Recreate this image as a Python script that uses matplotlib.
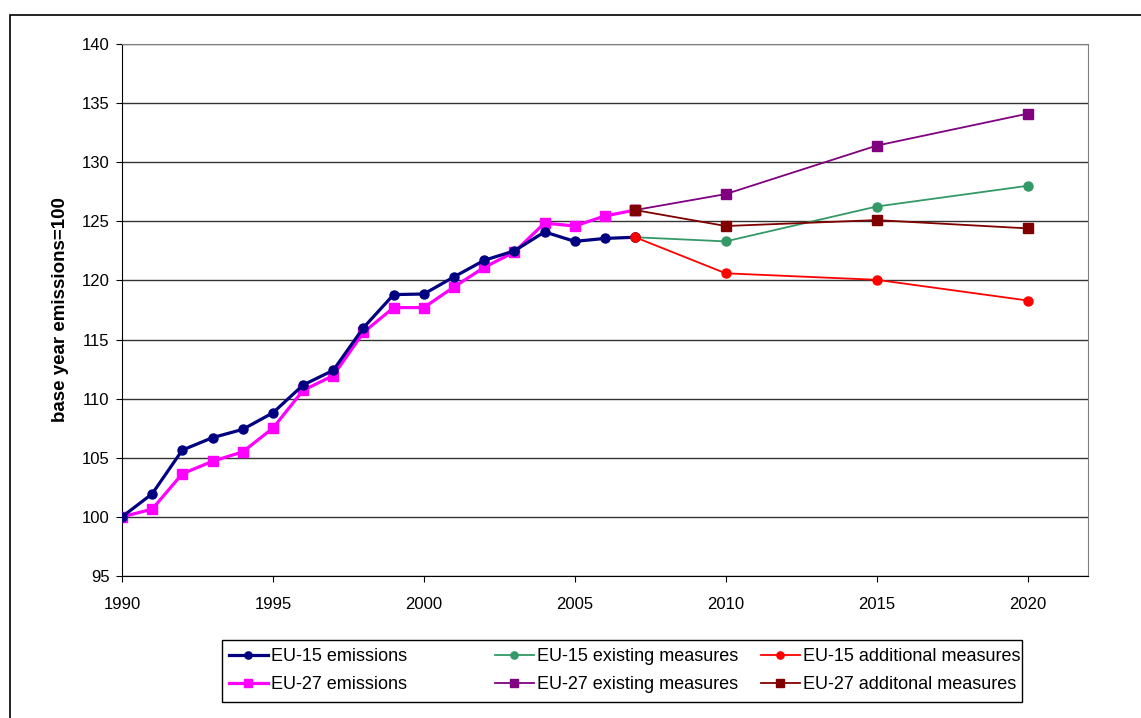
import matplotlib.pyplot as plt
import matplotlib.patches as patches

plt.rcParams['font.family'] = ['Liberation Sans', 'DejaVu Sans']

years = list(range(1990, 2008))
eu15 = [100.0, 101.95, 105.65, 106.7, 107.4, 108.8, 111.15, 112.4, 116.0, 118.8,
        118.85, 120.3, 121.7, 122.5, 124.1, 123.3, 123.55, 123.65]
eu27 = [100.0, 100.65, 103.65, 104.7, 105.5, 107.5, 110.7, 111.95, 115.6, 117.7,
        117.7, 119.45, 121.1, 122.4, 124.85, 124.6, 125.45, 125.95]

proj_years = [2007, 2010, 2015, 2020]
eu15_existing = [123.65, 123.3, 126.25, 128.0]
eu15_additional = [123.65, 120.6, 120.05, 118.3]
eu27_existing = [125.95, 127.3, 131.4, 134.1]
eu27_additional = [125.95, 124.6, 125.1, 124.4]

fig = plt.figure(figsize=(11.41, 7.18), dpi=100)
ax = fig.add_axes([0.1069, 0.1978, 0.8466, 0.741])

# outer chart border
fig.patches.append(patches.Rectangle((0.0088, -0.02), 1.1, 0.9991, transform=fig.transFigure,
                                     fill=False, edgecolor='black', linewidth=1.2))

h1, = ax.plot(years, eu15, color='#000080', lw=2.3, marker='o', ms=6.5, label='EU-15 emissions', zorder=5)
h2, = ax.plot(years, eu27, color='#FF00FF', lw=2.3, marker='s', ms=6.5, label='EU-27 emissions', zorder=4)
h3, = ax.plot(proj_years, eu15_existing, color='#339966', lw=1.3, marker='o', ms=6.5, label='EU-15 existing measures', zorder=3)
h4, = ax.plot(proj_years, eu27_existing, color='#800080', lw=1.3, marker='s', ms=6.5, label='EU-27 existing measures', zorder=3)
h5, = ax.plot(proj_years, eu15_additional, color='#FF0000', lw=1.3, marker='o', ms=6.5, label='EU-15 additional measures', zorder=6)
h6, = ax.plot(proj_years, eu27_additional, color='#800000', lw=1.3, marker='s', ms=6.5, label='EU-27 additonal measures', zorder=6)

ax.set_xlim(1990, 2022)
ax.set_ylim(95, 140)
ax.set_xticks(range(1990, 2021, 5))
ax.set_yticks(range(95, 141, 5))
ax.yaxis.grid(True, color='#333333', lw=1.0)
ax.set_axisbelow(True)
for s in ['top', 'right']:
    ax.spines[s].set_color('#808080')
ax.tick_params(labelsize=12, length=4, direction='out')
ax.tick_params(axis='y', pad=5)
ax.tick_params(axis='x', pad=11)
ax.set_ylabel('base year emissions=100', fontsize=13.5, fontweight='bold', labelpad=9)

# legend: three columns placed like the original, one frame around them
columns = [(0.2007, [h1, h2]), (0.4338, [h3, h4]), (0.6667, [h5, h6])]
for x0, hs in columns:
    fig.legend(hs, [h.get_label() for h in hs], loc='center left',
               bbox_to_anchor=(x0, 0.0657), fontsize=13, frameon=False,
               handlelength=2.15, handletextpad=0.17, labelspacing=0.6,
               borderpad=0, borderaxespad=0, markerscale=0.8)
fig.patches.append(patches.Rectangle((0.1946, 0.0223), 0.7011, 0.0864, transform=fig.transFigure,
                                     fill=False, edgecolor='black', linewidth=1.0))

fig.savefig('out.png', dpi=100)
